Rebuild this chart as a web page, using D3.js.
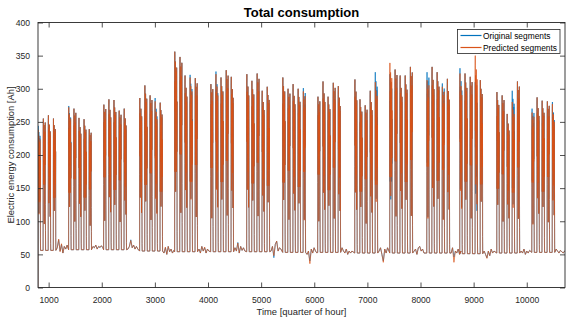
<!DOCTYPE html>
<html>
<head>
<meta charset="utf-8">
<script src="https://cdn.jsdelivr.net/npm/d3@7"></script>
<style>
  body { margin: 0; background: #fff; }
  svg { display: block; font-family: 'Liberation Sans', Arial, sans-serif; }
</style>
</head>
<body>
<svg id="chart" width="566" height="322"></svg>
<script>
// quarter index of the first morning rise of each week
const weekRise = [705, 1377, 2036, 2714, 3373, 4051, 4729, 5407, 6066, 6763, 7422, 8119, 8740, 9437, 10096];

// daily peak per weekday, one row per week
const origPeaks = [
  [240, 244, 255, 260, 255],
  [274, 270, 256, 254, 239],
  [276, 284, 283, 267, 270],
  [286, 305, 290, 286, 279],
  [356, 348, 320, 321, 316],
  [307, 326, 317, 328, 318],
  [322, 312, 323, 297, 303],
  [317, 300, 307, 300, 301],
  [288, 311, 288, 309, 304],
  [314, 284, 275, 297, 325],
  [322, 329, 320, 320, 333],
  [325, 333, 325, 308, 315],
  [331, 323, 318, 310, 313],
  [295, 290, 262, 297, 311],
  [270, 287, 282, 281, 280]
];
const predPeaks = [
  [240, 238, 255, 260, 255],
  [272, 270, 256, 254, 239],
  [276, 284, 283, 267, 270],
  [286, 305, 290, 281, 279],
  [356, 348, 320, 317, 316],
  [307, 322, 317, 328, 318],
  [322, 312, 323, 297, 303],
  [317, 300, 307, 300, 296],
  [288, 311, 288, 309, 304],
  [314, 284, 275, 297, 310],
  [339, 329, 320, 320, 333],
  [313, 333, 325, 303, 315],
  [323, 323, 318, 350, 313],
  [295, 290, 262, 280, 311],
  [264, 287, 282, 281, 277]
];

// night level per week
const nightBase = [56, 57, 57, 55, 54, 54, 54, 53, 53, 52, 52, 52, 51, 52, 53];

// weekend readings per week
const weekendOrig = [
  [60, 72, 55, 65, 52, 62, 58, 64],
  [62, 60, 64, 58, 62, 60, 63, 60],
  [58, 62, 72, 60, 64, 58, 62, 58],
  [52, 60, 50, 62, 54, 58, 52, 56],
  [58, 52, 62, 55, 60, 52, 58, 55],
  [60, 55, 68, 52, 62, 56, 60, 55],
  [55, 62, 45, 65, 70, 55, 60, 58],
  [50, 55, 40, 58, 52, 60, 55, 52],
  [60, 55, 52, 58, 50, 55, 52, 55],
  [55, 60, 50, 40, 58, 52, 60, 55],
  [55, 58, 50, 60, 62, 55, 58, 52],
  [52, 60, 46, 55, 52, 58, 50, 55],
  [55, 50, 45, 55, 48, 58, 52, 55],
  [55, 52, 58, 50, 55, 52, 56, 54],
  [58, 55, 52, 56, 54, 52, 55, 53]
];
const weekendPred = [
  [60, 73, 54, 66, 52, 62, 58, 64],
  [62, 60, 64, 58, 62, 61, 63, 60],
  [58, 62, 71, 60, 64, 58, 62, 58],
  [52, 61, 50, 62, 54, 58, 52, 56],
  [58, 52, 62, 55, 61, 52, 58, 55],
  [60, 55, 67, 52, 62, 56, 60, 55],
  [55, 62, 48, 65, 70, 55, 60, 58],
  [50, 55, 36, 58, 52, 60, 55, 52],
  [60, 55, 52, 58, 50, 55, 52, 55],
  [55, 60, 50, 38, 58, 52, 60, 55],
  [55, 58, 50, 60, 62, 55, 58, 52],
  [52, 60, 38, 55, 52, 58, 50, 55],
  [55, 50, 44, 55, 48, 58, 52, 55],
  [55, 52, 58, 50, 55, 52, 56, 54],
  [58, 55, 52, 56, 54, 52, 55, 53]
];

// shapes of a working day: [quarters after rise, share of (peak - night)]
const dayProfiles = [
  [[-1, 0], [0, 0.5], [1, 0.95], [3, 1], [6, 0.62], [9, 0.9], [12, 0.35], [15, 0.8], [19, 0.55],
   [23, 0.93], [27, 0.45], [31, 0.85], [35, 0.25], [38, 0.88], [41, 0.7], [43, 0.3], [45, 0.05], [47, 0]],
  [[-1, 0], [0, 0.6], [2, 1], [5, 0.4], [8, 0.85], [12, 0.7], [15, 0.95], [18, 0.3], [22, 0.8],
   [26, 0.6], [30, 0.9], [33, 0.4], [37, 0.92], [40, 0.5], [43, 0.75], [45, 0.1], [47, 0]],
  [[-1, 0], [0, 0.45], [2, 0.9], [4, 1], [7, 0.5], [11, 0.88], [14, 0.6], [18, 0.95], [21, 0.2],
   [25, 0.75], [29, 0.5], [32, 0.9], [36, 0.65], [39, 0.97], [42, 0.35], [44, 0.15], [46, 0]]
];

const xTicks = [1000, 2000, 3000, 4000, 5000, 6000, 7000, 8000, 9000, 10000];
const yTicks = [0, 50, 100, 150, 200, 250, 300, 350, 400];
const tStart = 800, tEnd = 10720;

const margin = { left: 38, right: 1, top: 22.5, bottom: 34.5 };
const W = 566, H = 322;

const svg = d3.select('#chart');
const x = d3.scaleLinear().domain([tStart, tEnd]).range([margin.left, W - margin.right]);
const y = d3.scaleLinear().domain([0, 400]).range([H - margin.bottom, margin.top]);

function buildSeries(peaks, weekend) {
  const pts = [];
  weekRise.forEach((w, i) => {
    const base = nightBase[i];
    peaks[i].forEach((p, d) => {
      const r = w + d * 96;
      const prof = dayProfiles[(i + d) % dayProfiles.length];
      prof.forEach(([o, f]) => pts.push([r + o, base + f * (p - base)]));
    });
    const from = w + 4 * 96 + 47, to = w + 672 - 2;
    const n = weekend[i].length;
    weekend[i].forEach((v, k) => pts.push([from + (k + 1) * (to - from) / (n + 1), v]));
  });
  return [[tStart, 0]].concat(pts.filter(p => p[0] > tStart && p[0] <= tEnd + 60));
}

const origSeries = buildSeries(origPeaks, weekendOrig);
const predSeries = buildSeries(predPeaks, weekendPred);

svg.append('defs').append('clipPath').attr('id', 'plotclip')
  .append('rect')
  .attr('x', margin.left).attr('y', margin.top)
  .attr('width', W - margin.right - margin.left)
  .attr('height', H - margin.bottom - margin.top);

const line = d3.line().x(d => x(d[0])).y(d => y(d[1]));

const plot = svg.append('g').attr('clip-path', 'url(#plotclip)');
plot.append('path').datum(origSeries)
  .attr('d', line).attr('fill', 'none')
  .attr('stroke', '#0072BD').attr('stroke-width', 0.7);
plot.append('path').datum(predSeries)
  .attr('d', line).attr('fill', 'none')
  .attr('stroke', '#D95319').attr('stroke-width', 0.7);

// axes, MATLAB box style with inward ticks
const axisColor = '#262626';
const tickLen = 5;
const styleAxis = g => {
  g.select('.domain').remove();
  g.selectAll('.tick line').attr('stroke', axisColor).attr('stroke-width', 0.8);
  g.selectAll('.tick text').attr('fill', axisColor).style('font-size', '8.6px');
};

svg.append('g')
  .attr('transform', `translate(0,${H - margin.bottom})`)
  .call(d3.axisBottom(x).tickValues(xTicks).tickFormat(d3.format('d'))
    .tickSizeInner(-tickLen).tickSizeOuter(0).tickPadding(9))
  .call(styleAxis);
svg.append('g')
  .attr('transform', `translate(0,${margin.top})`)
  .call(d3.axisTop(x).tickValues(xTicks).tickSizeInner(-tickLen).tickSizeOuter(0).tickFormat(''))
  .call(styleAxis);
svg.append('g')
  .attr('transform', `translate(${margin.left},0)`)
  .call(d3.axisLeft(y).tickValues(yTicks).tickSizeInner(-tickLen).tickSizeOuter(0).tickPadding(8))
  .call(styleAxis);
svg.append('g')
  .attr('transform', `translate(${W - margin.right},0)`)
  .call(d3.axisRight(y).tickValues(yTicks).tickSizeInner(-tickLen).tickSizeOuter(0).tickFormat(''))
  .call(styleAxis);

svg.append('rect')
  .attr('x', margin.left).attr('y', margin.top)
  .attr('width', W - margin.right - margin.left)
  .attr('height', H - margin.bottom - margin.top)
  .attr('fill', 'none').attr('stroke', axisColor).attr('stroke-width', 0.9);

// titles
const cx = (margin.left + W - margin.right) / 2;
svg.append('text')
  .attr('x', cx).attr('y', 17)
  .attr('text-anchor', 'middle')
  .style('font-size', '13px').style('font-weight', 'bold')
  .attr('fill', '#000')
  .text('Total consumption');
svg.append('text')
  .attr('x', cx).attr('y', 315)
  .attr('text-anchor', 'middle')
  .style('font-size', '9.4px')
  .attr('fill', axisColor)
  .text('Time [quarter of hour]');
svg.append('text')
  .attr('transform', `translate(14,${(margin.top + H - margin.bottom) / 2}) rotate(-90)`)
  .attr('text-anchor', 'middle')
  .style('font-size', '9.4px')
  .attr('fill', axisColor)
  .text('Electric energy consumption [Ah]');

// legend
const legendItems = [
  { label: 'Original segments', color: '#0072BD' },
  { label: 'Predicted segments', color: '#D95319' }
];
const lg = svg.append('g').attr('transform', 'translate(457.5,29.5)');
lg.append('rect')
  .attr('width', 102.5).attr('height', 24)
  .attr('fill', '#fff').attr('stroke', axisColor).attr('stroke-width', 0.8);
legendItems.forEach((it, i) => {
  const yy = 6 + i * 12;
  lg.append('line')
    .attr('x1', 3).attr('x2', 24).attr('y1', yy).attr('y2', yy)
    .attr('stroke', it.color).attr('stroke-width', 1.2);
  lg.append('text')
    .attr('x', 25.5).attr('y', yy + 3)
    .style('font-size', '8.4px')
    .attr('fill', '#000')
    .text(it.label);
});
</script>
</body>
</html>
